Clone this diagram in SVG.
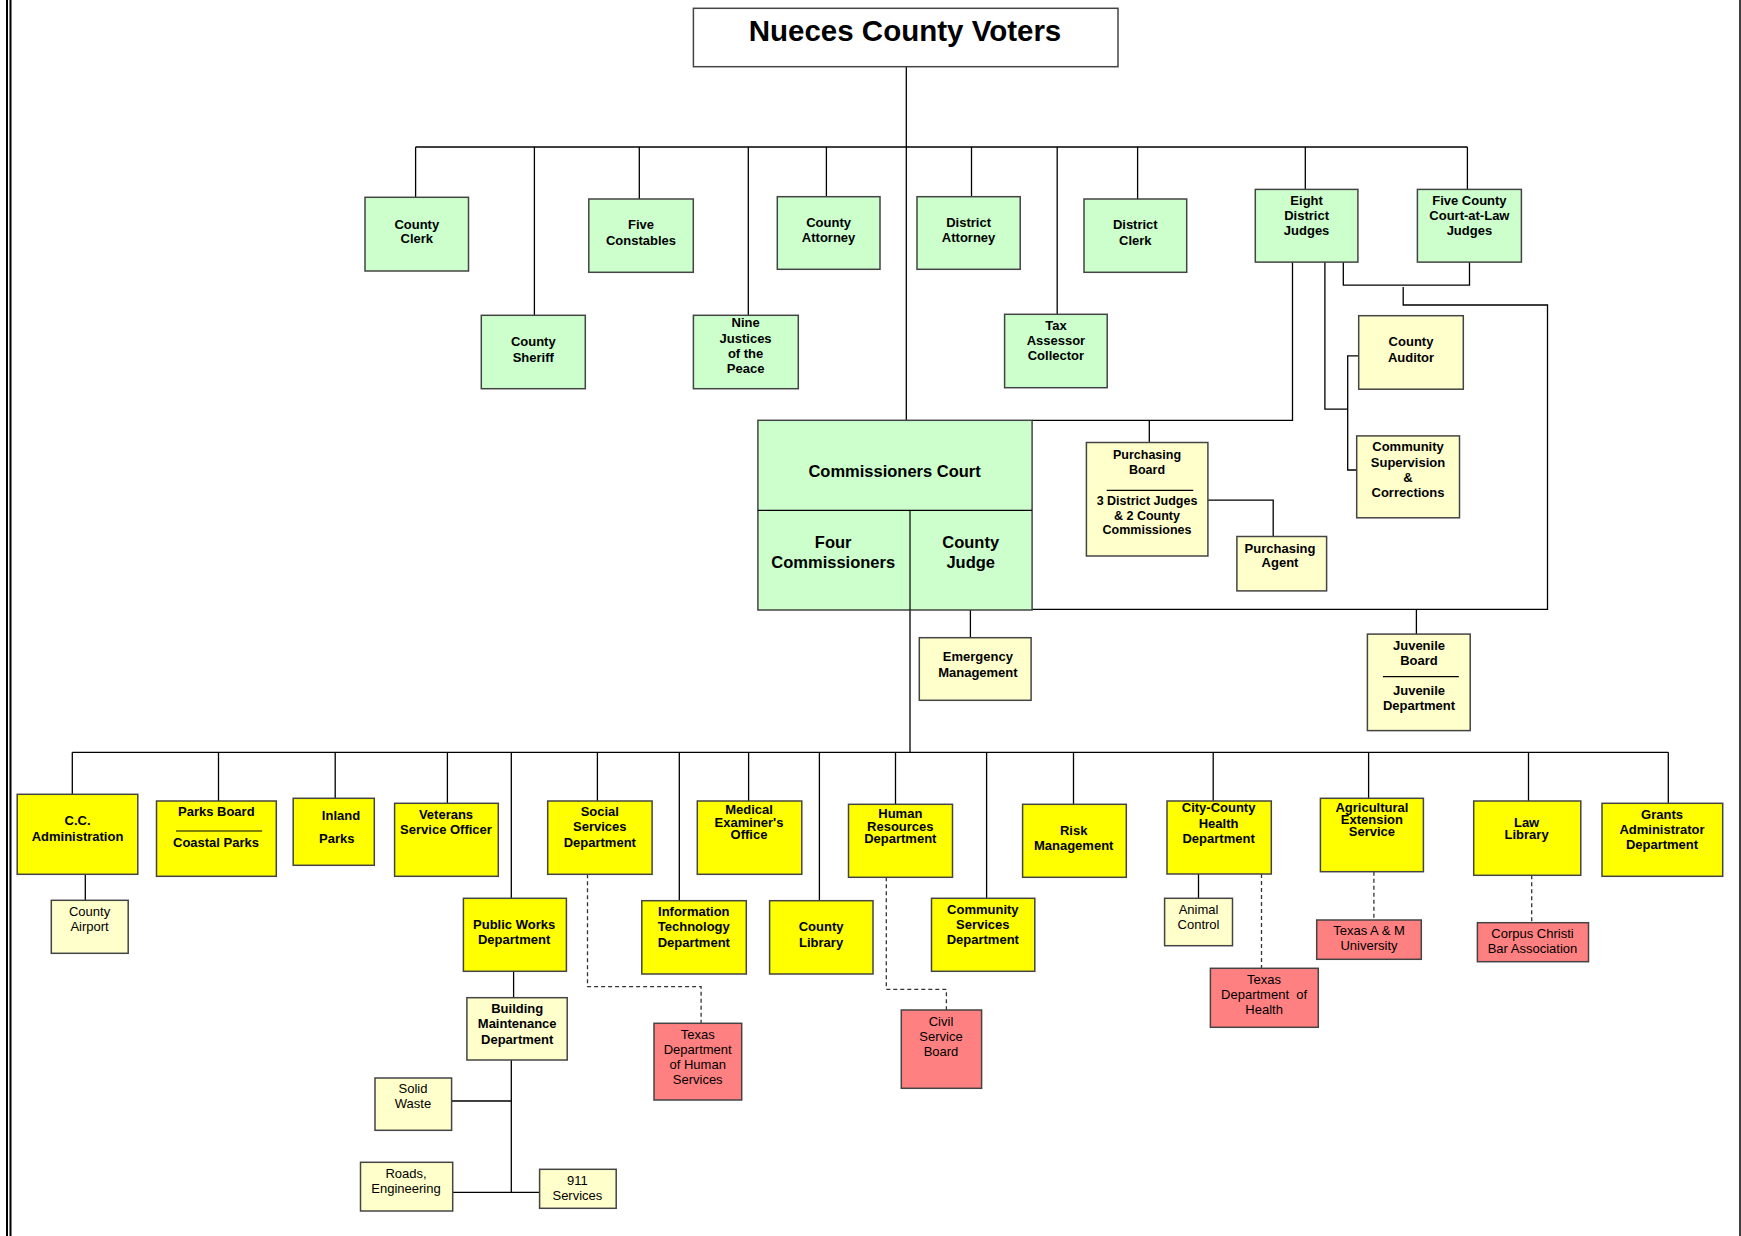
<svg xmlns="http://www.w3.org/2000/svg" width="1741" height="1236" viewBox="0 0 1741 1236">
<style>
rect{stroke:#444;stroke-width:1.5}
.g{fill:#CCFFCC}
.ly{fill:#FFFFCC}
.y{fill:#FFFF00}
.r{fill:#FF8080}
.w{fill:#FFFFFF}
text{font-family:"Liberation Sans",Arial,sans-serif;text-anchor:middle;fill:#000}
.b{font-size:13px;font-weight:bold}
.bs{font-size:12.5px;font-weight:bold}
.n{font-size:13px}
.cc{font-size:16.5px;font-weight:bold}
.tt{font-size:29.5px;font-weight:bold}
.c path,.c line{fill:none;stroke:#000;stroke-width:1.3}
.c .d{stroke:#333;stroke-dasharray:4,3}
.div{stroke:#000;stroke-width:1.2}
</style>
<line x1="7" y1="0" x2="7" y2="1236" stroke="#000" stroke-width="2"/>
<line x1="10.5" y1="0" x2="10.5" y2="1236" stroke="#000" stroke-width="2"/>
<line x1="1740" y1="0" x2="1740" y2="1236" stroke="#000" stroke-width="1.5"/>
<g class="c" id="connectors">
<path d="M906.3,66.7V420.3"/>
<path d="M415.6,147H1467.4"/>
<path d="M415.6,147V197.3M534.4,147V315.3M639.3,147V199M748.3,147V315.3M826.4,147V196.7M971.5,147V196.7M1057.2,147V314.3M1137.6,147V199M1305.3,147V189.4M1467.4,147V189.4"/>
<path d="M1343.3,262V285.1H1469.5V262"/>
<path d="M1403.2,287V305H1547.5V609.3H1032.1"/>
<path d="M1416.4,609.3V634.1"/>
<path d="M1292.5,262V420.3H1032.1"/>
<path d="M1149.3,420.3V442.5"/>
<path d="M1207.9,500.2H1273.2V536.5"/>
<path d="M1324.9,260V409.1H1347.7"/>
<path d="M1358.7,355.9H1347.7V470H1356.7"/>
<path d="M970.4,610V637.7"/>
<path d="M910,610V752.3"/>
<path d="M72.3,752.3H1668.3"/>
<path d="M72.3,752.3V794.3M218.5,752.3V801M335.2,752.3V798.3M447.4,752.3V803.3M511.3,752.3V898.3M597.4,752.3V801M679.3,752.3V900.7M748.6,752.3V801M819.4,752.3V900.7M895.5,752.3V804.3M986.6,752.3V898.3M1073.5,752.3V804.3M1213.2,752.3V801M1368.6,752.3V798.3M1528.5,752.3V801M1668.3,752.3V803.3"/>
<path d="M85.3,874.3V900.3"/>
<path d="M513.6,971.3V997.7"/>
<path d="M511.3,1060V1192.3"/>
<path d="M451.6,1101H511.3"/>
<path d="M452.7,1192.3H539.6"/>
<path d="M1198.5,874V898.3"/>
<path class="d" d="M587.5,874.3V986.7H701.1V1023.3"/>
<path class="d" d="M886.3,877.3V989.3H946.4V1010"/>
<path class="d" d="M1261.5,874V968.3"/>
<path class="d" d="M1373.9,871.7V920"/>
<path class="d" d="M1531.7,875.3V922.7"/>
</g>
<g id="voters"><rect class="w" x="693.4" y="8.3" width="424.6" height="58.4"/><text class="tt" x="905" y="40.7">Nueces County Voters</text></g>
<g id="county-clerk"><rect class="g" x="365" y="197.3" width="103.5" height="73.7"/><text class="b" x="416.8" y="228.6">County</text><text class="b" x="416.8" y="243.3">Clerk</text></g>
<g id="county-sheriff"><rect class="g" x="481.3" y="315.3" width="104" height="73.4"/><text class="b" x="533.3" y="346.3">County</text><text class="b" x="533.3" y="362">Sheriff</text></g>
<g id="five-constables"><rect class="g" x="588.8" y="199" width="104.5" height="73.3"/><text class="b" x="641" y="229.3">Five</text><text class="b" x="641" y="245">Constables</text></g>
<g id="nine-justices"><rect class="g" x="693.4" y="315.3" width="104.9" height="73.4"/><text class="b" x="745.6" y="327.3">Nine</text><text class="b" x="745.6" y="343.3">Justices</text><text class="b" x="745.6" y="357.9">of the</text><text class="b" x="745.6" y="372.9">Peace</text></g>
<g id="county-attorney"><rect class="g" x="777.3" y="196.7" width="102.7" height="72.6"/><text class="b" x="828.6" y="227.3">County</text><text class="b" x="828.6" y="242.3">Attorney</text></g>
<g id="district-attorney"><rect class="g" x="917" y="196.7" width="103.2" height="72.6"/><text class="b" x="968.6" y="227.3">District</text><text class="b" x="968.6" y="242.3">Attorney</text></g>
<g id="tax-assessor"><rect class="g" x="1004.6" y="314.3" width="102.6" height="73.4"/><text class="b" x="1055.9" y="330.3">Tax</text><text class="b" x="1055.9" y="345.3">Assessor</text><text class="b" x="1055.9" y="360.3">Collector</text></g>
<g id="district-clerk"><rect class="g" x="1084" y="199" width="102.7" height="73.3"/><text class="b" x="1135.3" y="229.3">District</text><text class="b" x="1135.3" y="244.6">Clerk</text></g>
<g id="district-judges"><rect class="g" x="1255.3" y="189.4" width="102.6" height="72.7"/><text class="b" x="1306.6" y="205.3">Eight</text><text class="b" x="1306.6" y="220">District</text><text class="b" x="1306.6" y="235.3">Judges</text></g>
<g id="court-at-law"><rect class="g" x="1417.4" y="189.4" width="104" height="72.7"/><text class="b" x="1469.4" y="204.7">Five County</text><text class="b" x="1469.4" y="220">Court-at-Law</text><text class="b" x="1469.4" y="235">Judges</text></g>
<g id="commissioners-court"><rect class="g" x="757.9" y="420.3" width="274.2" height="189.7"/><line class="div" x1="757.9" y1="510.3" x2="1032.1" y2="510.3"/><line class="div" x1="910" y1="510.3" x2="910" y2="610"/><text class="cc" x="894.6" y="476.8">Commissioners Court</text><text class="cc" x="833.2" y="548.1">Four</text><text class="cc" x="833.2" y="567.5">Commissioners</text><text class="cc" x="970.7" y="548.1">County</text><text class="cc" x="970.7" y="567.5">Judge</text></g>
<g id="county-auditor"><rect class="ly" x="1358.7" y="315.7" width="104.6" height="73.5"/><text class="b" x="1411" y="346">County</text><text class="b" x="1411" y="362">Auditor</text></g>
<g id="csc"><rect class="ly" x="1356.7" y="435.9" width="102.8" height="81.9"/><text class="b" x="1408" y="451.2">Community</text><text class="b" x="1408" y="466.9">Supervision</text><text class="b" x="1408" y="482.2">&amp;</text><text class="b" x="1408" y="497.1">Corrections</text></g>
<g id="purchasing-board"><rect class="ly" x="1086.4" y="442.5" width="121.5" height="113.5"/><text class="bs" x="1147" y="458.7">Purchasing</text><text class="bs" x="1147" y="473.7">Board</text><line class="div" x1="1106.7" y1="490.3" x2="1193.3" y2="490.3"/><text class="bs" x="1147" y="505.1">3 District Judges</text><text class="bs" x="1147" y="519.7">&amp; 2 County</text><text class="bs" x="1147" y="533.7">Commissiones</text></g>
<g id="purchasing-agent"><rect class="ly" x="1236.9" y="536.5" width="89.7" height="54.4"/><text class="b" x="1280" y="552.6">Purchasing</text><text class="b" x="1280" y="567.2">Agent</text></g>
<g id="emergency"><rect class="ly" x="919.3" y="637.7" width="111.8" height="62.6"/><text class="b" x="977.9" y="661.3">Emergency</text><text class="b" x="977.9" y="677.3">Management</text></g>
<g id="juvenile"><rect class="ly" x="1367.4" y="634.1" width="102.8" height="96.5"/><text class="b" x="1419" y="650.2">Juvenile</text><text class="b" x="1419" y="665.1">Board</text><line class="div" x1="1382.9" y1="676.6" x2="1458.8" y2="676.6"/><text class="b" x="1419" y="695">Juvenile</text><text class="b" x="1419" y="709.9">Department</text></g>
<g id="cc-admin"><rect class="y" x="17.2" y="794.3" width="120.6" height="80"/><text class="b" x="77.5" y="825.3">C.C.</text><text class="b" x="77.5" y="841.3">Administration</text></g>
<g id="county-airport"><rect class="ly" x="51.3" y="900.3" width="76.9" height="53"/><text class="n" x="89.6" y="916.3">County</text><text class="n" x="89.6" y="931.3">Airport</text></g>
<g id="parks-board"><rect class="y" x="156.5" y="801" width="119.8" height="75.3"/><text class="b" x="216.3" y="816.3">Parks Board</text><line class="div" x1="176" y1="831" x2="262.2" y2="831"/><text class="b" x="216" y="847.3">Coastal Parks</text></g>
<g id="inland-parks"><rect class="y" x="293.2" y="798.3" width="81.1" height="67"/><text class="b" x="341" y="820.3">Inland</text><text class="b" x="336.8" y="843.3">Parks</text></g>
<g id="veterans"><rect class="y" x="394.6" y="803.3" width="103.7" height="73"/><text class="b" x="446" y="819.3">Veterans</text><text class="b" x="446" y="834.3">Service Officer</text></g>
<g id="public-works"><rect class="y" x="463.4" y="898.3" width="103" height="73"/><text class="b" x="514.1" y="928.9">Public Works</text><text class="b" x="514.1" y="944.3">Department</text></g>
<g id="building-maintenance"><rect class="ly" x="466.9" y="997.7" width="100.3" height="62.3"/><text class="b" x="517.2" y="1013.3">Building</text><text class="b" x="517.2" y="1028.3">Maintenance</text><text class="b" x="517.2" y="1044.3">Department</text></g>
<g id="solid-waste"><rect class="ly" x="375" y="1078" width="76.6" height="52.3"/><text class="n" x="413" y="1093.3">Solid</text><text class="n" x="413" y="1107.9">Waste</text></g>
<g id="roads"><rect class="ly" x="360.5" y="1162.3" width="92.2" height="48.7"/><text class="n" x="406" y="1178.3">Roads,</text><text class="n" x="406" y="1193.3">Engineering</text></g>
<g id="services-911"><rect class="ly" x="539.6" y="1169.3" width="76.6" height="39"/><text class="n" x="577.4" y="1185.3">911</text><text class="n" x="577.4" y="1199.9">Services</text></g>
<g id="social-services"><rect class="y" x="547.7" y="801" width="104.4" height="73.3"/><text class="b" x="599.8" y="815.9">Social</text><text class="b" x="599.8" y="830.9">Services</text><text class="b" x="599.8" y="846.9">Department</text></g>
<g id="tx-human-services"><rect class="r" x="654" y="1023.3" width="87.7" height="76.7"/><text class="n" x="697.7" y="1039.3">Texas</text><text class="n" x="697.7" y="1054.3">Department</text><text class="n" x="697.7" y="1069.3">of Human</text><text class="n" x="697.7" y="1084.3">Services</text></g>
<g id="it"><rect class="y" x="641.8" y="900.7" width="104.5" height="73.3"/><text class="b" x="693.8" y="915.9">Information</text><text class="b" x="693.8" y="931.3">Technology</text><text class="b" x="693.8" y="946.9">Department</text></g>
<g id="medical-examiner"><rect class="y" x="697.3" y="801" width="104.5" height="73.3"/><text class="b" x="749" y="813.9">Medical</text><text class="b" x="749" y="826.9">Examiner's</text><text class="b" x="749" y="838.9">Office</text></g>
<g id="county-library"><rect class="y" x="769.6" y="900.7" width="103.4" height="73.3"/><text class="b" x="821.1" y="931.3">County</text><text class="b" x="821.1" y="946.9">Library</text></g>
<g id="human-resources"><rect class="y" x="848.5" y="804.3" width="104" height="73"/><text class="b" x="900.3" y="817.6">Human</text><text class="b" x="900.3" y="830.9">Resources</text><text class="b" x="900.3" y="843.3">Department</text></g>
<g id="civil-service"><rect class="r" x="901.3" y="1010" width="80.3" height="78.3"/><text class="n" x="941" y="1025.9">Civil</text><text class="n" x="941" y="1040.9">Service</text><text class="n" x="941" y="1055.9">Board</text></g>
<g id="community-services"><rect class="y" x="931.5" y="898.3" width="103.3" height="73"/><text class="b" x="982.8" y="913.9">Community</text><text class="b" x="982.8" y="928.9">Services</text><text class="b" x="982.8" y="943.9">Department</text></g>
<g id="risk"><rect class="y" x="1022.6" y="804.3" width="103.7" height="73"/><text class="b" x="1073.7" y="834.9">Risk</text><text class="b" x="1073.7" y="850.3">Management</text></g>
<g id="health"><rect class="y" x="1167" y="801" width="104.3" height="73"/><text class="b" x="1218.6" y="812.3">City-County</text><text class="b" x="1218.6" y="827.9">Health</text><text class="b" x="1218.6" y="843.3">Department</text></g>
<g id="animal-control"><rect class="ly" x="1164.6" y="898.3" width="67.9" height="47.4"/><text class="n" x="1198.5" y="913.9">Animal</text><text class="n" x="1198.5" y="928.9">Control</text></g>
<g id="tx-health"><rect class="r" x="1210.4" y="968.3" width="107.9" height="59"/><text class="n" x="1264.1" y="983.9">Texas</text><text class="n" x="1264.1" y="998.9" xml:space="preserve">Department  of</text><text class="n" x="1264.1" y="1013.9">Health</text></g>
<g id="agricultural"><rect class="y" x="1320.4" y="798.3" width="103" height="73.4"/><text class="b" x="1371.9" y="811.8">Agricultural</text><text class="b" x="1371.9" y="823.8">Extension</text><text class="b" x="1371.9" y="835.8">Service</text></g>
<g id="tamu"><rect class="r" x="1316.7" y="920" width="104.6" height="39.3"/><text class="n" x="1369" y="935.3">Texas A &amp; M</text><text class="n" x="1369" y="950.3">University</text></g>
<g id="law-library"><rect class="y" x="1473.7" y="801" width="107.1" height="74.3"/><text class="b" x="1526.6" y="826.9">Law</text><text class="b" x="1526.6" y="839.3">Library</text></g>
<g id="bar-association"><rect class="r" x="1477.4" y="922.7" width="111.1" height="39"/><text class="n" x="1532.5" y="937.9">Corpus Christi</text><text class="n" x="1532.5" y="953.3">Bar Association</text></g>
<g id="grants"><rect class="y" x="1602" y="803.3" width="120.7" height="73"/><text class="b" x="1662" y="819.3">Grants</text><text class="b" x="1662" y="834.3">Administrator</text><text class="b" x="1662" y="849.3">Department</text></g>
</svg>
